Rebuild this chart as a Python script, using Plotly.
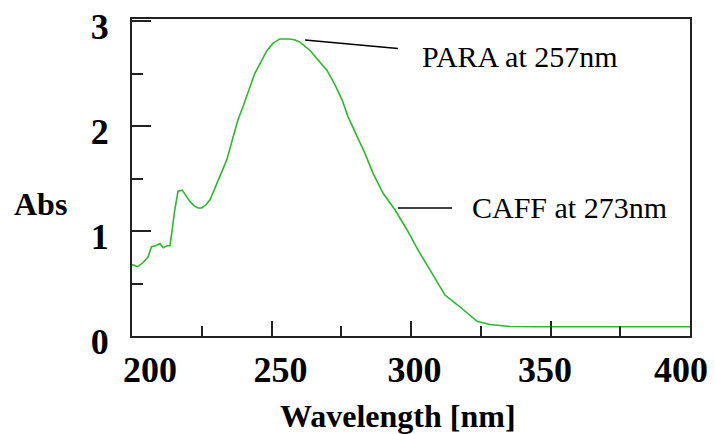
import plotly.graph_objects as go

wavelength = [200, 202, 204, 205.7, 207, 208.5, 210, 211.2, 212.5, 213.6, 214.3, 215.2,
              216.5, 218, 219.5, 220.8, 222.3, 223.7, 225, 226.5, 228, 230.5, 232.6,
              234, 236.3, 238, 240, 242, 244, 246.6, 248.4, 250.6, 253, 255, 256.6,
              258.5, 260.2, 263.8, 266.7, 269.9, 272.8, 275.3, 277.4, 280.6, 283.5,
              286.4, 290, 294.3, 298.6, 302.5, 306.8, 310, 312.2, 316.5, 320, 323.7,
              328.3, 332, 335.5, 345, 360, 380, 400]
absorbance = [0.68, 0.66, 0.70, 0.75, 0.85, 0.86, 0.88, 0.84, 0.86, 0.86, 0.99, 1.18,
              1.38, 1.39, 1.33, 1.28, 1.24, 1.22, 1.22, 1.25, 1.30, 1.46, 1.58,
              1.68, 1.90, 2.06, 2.20, 2.36, 2.50, 2.63, 2.72, 2.79, 2.83, 2.83, 2.83,
              2.82, 2.80, 2.72, 2.63, 2.53, 2.39, 2.25, 2.09, 1.90, 1.74,
              1.55, 1.36, 1.20, 1.01, 0.82, 0.63, 0.50, 0.39, 0.30, 0.22, 0.14,
              0.11, 0.10, 0.09, 0.088, 0.088, 0.088, 0.088]

x_ticks = [200, 250, 300, 350, 400]
x_tick_labels = ["200", "250", "300", "350", "400"]
y_ticks = [0, 1, 2, 3]

labels = ["PARA at 257nm", "CAFF at 273nm"]

# in the original the x tick labels sit slightly off their ticks; pad with
# non-collapsing leading spaces (plus a global shift) to reproduce that
FS, TS = "\u2007", "\u2009"
x_pads = [FS * 3, FS * 2, FS + TS, TS, ""]
x_text = [pre + t for t, pre in zip(x_tick_labels, x_pads)]

fig = go.Figure()
fig.add_trace(go.Scatter(x=wavelength, y=absorbance, mode="lines",
                         line=dict(color="#2db82d", width=1.6), showlegend=False,
                         cliponaxis=False))

tick_font = dict(family="Liberation Serif", size=36, color="black", weight="bold")
axis_common = dict(showgrid=False, zeroline=False, showline=True, linewidth=2,
                   linecolor="#222", mirror=True, ticks="inside", tickcolor="#222",
                   tickwidth=2, tickfont=tick_font, ticklabeloverflow="allow")

fig.update_xaxes(range=[200, 400], tickvals=x_ticks, ticktext=x_text, ticklen=15,
                 minor=dict(dtick=25, tick0=200, ticks="inside", ticklen=10,
                            tickcolor="#222", tickwidth=2),
                 ticklabelstandoff=1, ticklabelshift=-9, **axis_common)
fig.update_yaxes(range=[0, 3.02], tickvals=y_ticks, ticklen=19,
                 minor=dict(dtick=0.5, tick0=0, ticks="inside", ticklen=11,
                            tickcolor="#222", tickwidth=2),
                 ticklabelstandoff=14, ticklabelshift=5, **axis_common)

# annotation leader lines
fig.add_shape(type="line", x0=262.0, y0=2.82, x1=295.3, y1=2.74,
              line=dict(color="black", width=1.5))
fig.add_shape(type="line", x0=295.3, y0=1.22, x1=314.7, y1=1.22,
              line=dict(color="black", width=1.5))

ann_font = dict(family="Liberation Serif", size=30, color="black")
fig.add_annotation(x=303.2, y=2.66, text=labels[0], showarrow=False,
                   xanchor="left", yanchor="middle", font=ann_font)
fig.add_annotation(x=321.1, y=1.22, text=labels[1], showarrow=False,
                   xanchor="left", yanchor="middle", font=ann_font)

title_font = dict(family="Liberation Serif", size=32, color="black", weight="bold")
fig.add_annotation(xref="paper", x=-0.215, yref="y", y=1.26, text="Abs",
                   showarrow=False, xanchor="left", yanchor="middle", font=title_font)
fig.add_annotation(xref="paper", x=0.477, yref="paper", y=-0.252,
                   text="Wavelength [nm]", showarrow=False, xanchor="center",
                   yanchor="middle", font=title_font)

# page body has an 8px default margin; the figure then ends at the window edges
fig.update_layout(width=707, height=426,
                  margin=dict(l=124, r=25, t=11, b=98, autoexpand=False),
                  plot_bgcolor="white", paper_bgcolor="white")

fig.write_html("out.html")
